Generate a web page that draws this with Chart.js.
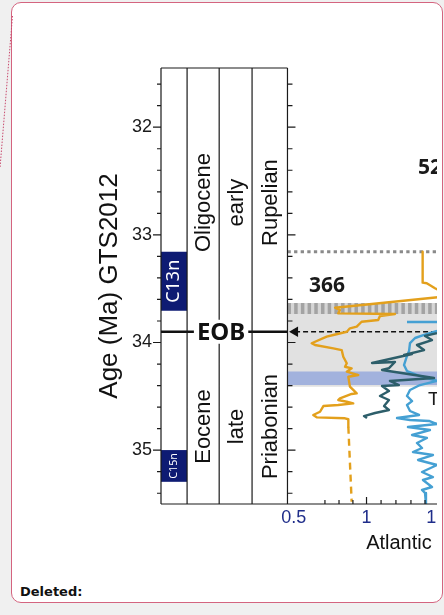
<!DOCTYPE html>
<html>
<head>
<meta charset="utf-8">
<script src="https://cdn.jsdelivr.net/npm/chart.js@4.4.1/dist/chart.umd.min.js"></script>
<style>
  html, body { margin: 0; padding: 0; }
  body { width: 444px; height: 615px; overflow: hidden; background: #f0f0f0; position: relative; }
  #box { position: absolute; left: 11px; top: 2px; width: 432px; height: 601px; box-sizing: border-box;
         border: 1.5px solid #d4647f; border-radius: 10px; background: #fff; }
  #link { position: absolute; left: 0; top: 0; }
  #deleted { position: absolute; left: 20px; top: 584px; font: bold 13px 'DejaVu Sans', sans-serif; color: #111; }
  #clip { position: absolute; left: 0; top: 0; width: 437px; height: 615px; overflow: hidden; }
  #wrap { position: absolute; left: 0; top: 0; width: 520px; height: 615px; }
</style>
</head>
<body>
<div id="box"></div>
<svg id="link" width="20" height="200"><line x1="12.5" y1="16" x2="0" y2="168" stroke="#c94a6e" stroke-width="1" stroke-dasharray="1.5,1.5"/></svg>
<div id="deleted">Deleted:</div>
<div id="clip"><div id="wrap"><canvas id="chart"></canvas></div></div>
<script>
// Age column and proxy panel, EOB interval

const EPOCHS = ['Oligocene', 'Eocene'];
const SUBEPOCHS = ['early', 'late'];
const STAGES = ['Rupelian', 'Priabonian'];
const EOB_AGE = 33.9;

const CHRONS = ['C13n', 'C15n'];
const CHRON_TOP = [33.157, 34.999];
const CHRON_BASE = [33.705, 35.294];

const X_TICK_VALUES = [0.54, 1, 1.41];
const X_TICK_LABELS = ['0.5', '1', '1'];
const X_MAJOR = [0.5, 1];
const X_MINOR = [0.737, 0.826, 0.914, 1.092, 1.186, 1.281, 1.37];

const DOTTED_AGE = 33.157;
const HATCH_BAND = [33.633, 33.735];
const GRAY_BAND = [33.633, 34.41];
const BLUE_BAND = [34.27, 34.395];

// [value, age]
const ORANGE = [
    [1.355, 33.156], [1.355, 33.444], [1.381, 33.45], [1.433, 33.496], [1.528, 33.568],
    [0.801, 33.677], [0.832, 33.698], [0.821, 33.729], [1.18, 33.735], [1.085, 33.754],
    [1.074, 33.791], [0.969, 33.807], [0.938, 33.853], [0.895, 33.868], [0.875, 33.9],
    [0.79, 33.93], [0.748, 33.946], [0.653, 34.007], [0.674, 34.023], [0.79, 34.054],
    [0.843, 34.07], [0.853, 34.132], [0.875, 34.193], [0.864, 34.225], [0.906, 34.24],
    [0.875, 34.271], [0.948, 34.302], [0.885, 34.318], [0.895, 34.41], [0.938, 34.472],
    [0.906, 34.478], [0.832, 34.518], [0.821, 34.534], [0.875, 34.55], [0.916, 34.565],
    [0.821, 34.581], [0.727, 34.59], [0.706, 34.643], [0.663, 34.673], [0.685, 34.695],
    [0.864, 34.704], [0.885, 34.713], [0.885, 34.782]
];
const ORANGE_DASHED = [[0.885, 34.782], [0.906, 35.479]];

const TEAL = [
    [1.446, 33.912], [1.37, 33.939], [1.414, 33.977], [1.319, 34.023], [1.364, 34.07],
    [1.237, 34.116], [1.288, 34.107], [1.035, 34.19], [1.18, 34.181], [1.142, 34.237],
    [1.098, 34.255], [1.427, 34.33], [1.148, 34.357], [1.205, 34.395], [1.098, 34.404],
    [1.142, 34.45], [1.085, 34.497], [1.142, 34.534], [1.111, 34.59], [1.142, 34.627],
    [1.054, 34.655], [0.984, 34.683], [1.003, 34.701]
];

const BLUE = [
    [1.256, 33.81], [1.503, 33.81], [1.503, 33.865], [1.446, 33.893], [1.364, 33.93],
    [1.307, 33.958], [1.275, 34.005], [1.269, 34.079], [1.256, 34.125], [1.237, 34.209],
    [1.256, 34.265], [1.338, 34.311], [1.427, 34.348], [1.446, 34.357], [1.338, 34.395],
    [1.275, 34.441], [1.256, 34.497], [1.288, 34.544], [1.256, 34.58], [1.275, 34.636],
    [1.332, 34.673], [1.193, 34.701], [1.275, 34.72], [1.395, 34.729], [1.446, 34.757],
    [1.262, 34.785], [1.401, 34.813], [1.288, 34.859], [1.382, 34.887], [1.319, 34.933],
    [1.351, 34.98], [1.294, 35.017], [1.42, 35.045], [1.326, 35.091], [1.446, 35.138],
    [1.351, 35.203], [1.42, 35.249], [1.357, 35.277], [1.414, 35.342], [1.351, 35.37],
    [1.37, 35.398], [1.376, 35.5]
];

// layout
const AGE_MIN = 31.45, AGE_MAX = 35.5;
const X_MIN = -0.3, X_MAX = 1.8;
const COLUMN_EDGES = [-0.3, -0.135, 0.068, 0.276, 0.5];
const PANEL_LEFT = 0.5;
const ARROW_AT = 0.548;
const LABEL_AGE_UPPER = 32.7, LABEL_AGE_LOWER = 34.78;
const PANEL_LABELS = [
    { text: '52', x: 1.326, age: 32.379, font: 'bold 21px "Open Sans"', align: 'left' },
    { text: '366', x: 0.75, age: 33.475, font: 'bold 21px "Open Sans"', align: 'center' },
    { text: 'T', x: 1.389, age: 34.534, font: '19px "Liberation Sans"', align: 'left' }
];

const COLORS = {
    orange: '#e3a01c',
    teal: '#2d5e6a',
    blue: '#45a0d3',
    chron: '#0e1b73',
    gray: '#e1e1e1',
    hatchBg: '#d6d6d6',
    hatch: '#a3a3a3',
    band: '#a2b2dd',
    dotted: '#8a8a8a',
    tick: '#1f2d8a',
    ink: '#111'
};

const pts = arr => arr.map(([x, y]) => ({ x, y }));
const isWhole = v => Math.abs(v - Math.round(v)) < 1e-6;

function band(x0, x1, range, color, order) {
    return {
        data: [{ x: x0, y: range[0] }, { x: x1, y: range[0] }],
        fill: { value: range[1] },
        backgroundColor: color,
        borderWidth: 0,
        pointRadius: 0,
        order
    };
}

function curve(arr, color, order, dash) {
    return {
        data: pts(arr),
        borderColor: color,
        borderWidth: 2.4,
        borderDash: dash || [],
        borderJoinStyle: 'round',
        pointRadius: 0,
        fill: false,
        order
    };
}

const datasets = [
    curve(ORANGE, COLORS.orange, 1),
    curve(ORANGE_DASHED, COLORS.orange, 1, [7, 5]),
    curve(TEAL, COLORS.teal, 2),
    curve(BLUE, COLORS.blue, 3),
    {
        data: [{ x: COLUMN_EDGES[0], y: EOB_AGE }, { x: PANEL_LEFT, y: EOB_AGE }],
        borderColor: COLORS.ink, borderWidth: 2.5, pointRadius: 0, order: 5
    },
    {
        data: [{ x: ARROW_AT, y: EOB_AGE }, { x: X_MAX, y: EOB_AGE }],
        borderColor: COLORS.ink, borderWidth: 1.3, borderDash: [5, 3],
        pointRadius: c => c.dataIndex === 0 ? 6 : 0,
        pointStyle: 'triangle', pointRotation: -90,
        pointBackgroundColor: COLORS.ink, pointBorderWidth: 0,
        order: 5
    },
    {
        data: [{ x: PANEL_LEFT, y: DOTTED_AGE }, { x: X_MAX, y: DOTTED_AGE }],
        borderColor: COLORS.dotted, borderWidth: 3, borderDash: [3.3, 3.3], borderCapStyle: 'butt',
        pointRadius: 0, order: 6
    },
    {
        data: [{ x: PANEL_LEFT, y: (HATCH_BAND[0] + HATCH_BAND[1]) / 2 }, { x: X_MAX, y: (HATCH_BAND[0] + HATCH_BAND[1]) / 2 }],
        borderColor: COLORS.hatch, borderWidth: 11, borderDash: [3.5, 3.2], borderCapStyle: 'butt',
        pointRadius: 0, order: 7
    },
    band(PANEL_LEFT, X_MAX, HATCH_BAND, COLORS.hatchBg, 8),
    band(PANEL_LEFT, X_MAX, BLUE_BAND, COLORS.band, 9),
    band(PANEL_LEFT, X_MAX, GRAY_BAND, COLORS.gray, 10)
];

CHRONS.forEach((c, i) => {
    datasets.push(band(COLUMN_EDGES[0], COLUMN_EDGES[1], [CHRON_TOP[i], CHRON_BASE[i]], COLORS.chron, 6));
});

function vtext(ctx, text, cx, cy, font, color) {
    ctx.save();
    ctx.translate(cx, cy);
    ctx.rotate(-Math.PI / 2);
    ctx.font = font;
    ctx.fillStyle = color;
    ctx.textAlign = 'center';
    ctx.textBaseline = 'middle';
    ctx.fillText(text, 0, 0);
    ctx.restore();
}

const frame = {
    id: 'frame',
    afterDatasetsDraw(chart) {
        const { ctx, chartArea: a, scales: { x, y } } = chart;
        const cols = COLUMN_EDGES.map(v => x.getPixelForValue(v));
        const yEob = y.getPixelForValue(EOB_AGE);
        ctx.save();

        ctx.strokeStyle = '#1a1a1a';
        ctx.lineWidth = 1.2;
        ctx.beginPath();
        cols.forEach(px => { ctx.moveTo(px, a.top); ctx.lineTo(px, a.bottom); });
        ctx.moveTo(cols[0], a.top); ctx.lineTo(cols[4], a.top);
        ctx.moveTo(cols[0], a.bottom); ctx.lineTo(a.right, a.bottom);
        y.ticks.forEach(t => {
            const py = y.getPixelForValue(t.value);
            const major = isWhole(t.value);
            ctx.moveTo(cols[0], py); ctx.lineTo(cols[0] - (major ? 8 : 4), py);
            ctx.moveTo(cols[4], py); ctx.lineTo(cols[4] + (major ? 8 : 5), py);
        });
        X_MAJOR.forEach(v => { const px = x.getPixelForValue(v); ctx.moveTo(px, a.bottom); ctx.lineTo(px, a.bottom - 7); });
        X_MINOR.forEach(v => { const px = x.getPixelForValue(v); ctx.moveTo(px, a.bottom); ctx.lineTo(px, a.bottom - 4); });
        ctx.stroke();

        // chron labels
        CHRONS.forEach((c, i) => {
            const top = y.getPixelForValue(CHRON_TOP[i]);
            const base = y.getPixelForValue(CHRON_BASE[i]);
            const size = Math.min(18, (base - top - 6) / 2.4);
            vtext(ctx, c, (cols[0] + cols[1]) / 2, (top + base) / 2, size + 'px "Noto Sans"', '#fff');
        });

        // units
        const yUp = y.getPixelForValue(LABEL_AGE_UPPER);
        const yLo = y.getPixelForValue(LABEL_AGE_LOWER);
        const f = '22px "Liberation Sans"';
        [EPOCHS, SUBEPOCHS, STAGES].forEach((names, k) => {
            const cx = (cols[k + 1] + cols[k + 2]) / 2 + 1;
            vtext(ctx, names[0], cx, yUp, f, COLORS.ink);
            vtext(ctx, names[1], cx, yLo, f, COLORS.ink);
        });

        // EOB label
        ctx.font = 'bold 24px "Noto Sans"';
        const w = ctx.measureText('EOB').width;
        const cx = (cols[1] + cols[3]) / 2 + 1.5;
        ctx.fillStyle = '#fff';
        ctx.fillRect(cx - w / 2 - 3, yEob - 12, w + 6, 24);
        ctx.fillStyle = COLORS.ink;
        ctx.textAlign = 'center';
        ctx.textBaseline = 'middle';
        ctx.fillText('EOB', cx, yEob + 1);

        // panel labels
        PANEL_LABELS.forEach(l => {
            ctx.font = l.font;
            ctx.textAlign = l.align;
            ctx.fillStyle = '#1a1a1a';
            ctx.fillText(l.text, x.getPixelForValue(l.x), y.getPixelForValue(l.age));
        });

        ctx.font = '20px "Liberation Sans"';
        ctx.textAlign = 'center';
        ctx.fillStyle = COLORS.ink;
        ctx.fillText('Atlantic', x.getPixelForValue(1.205), a.bottom + 39);
        ctx.restore();
    }
};

Chart.defaults.font.family = '"Liberation Sans", Arial, sans-serif';

new Chart(document.getElementById('chart'), {
    type: 'line',
    data: { datasets },
    options: {
        responsive: true,
        maintainAspectRatio: false,
        animation: false,
        layout: { padding: { top: 68, right: 27, left: 0, bottom: 0 } },
        plugins: { legend: { display: false }, tooltip: { enabled: false } },
        scales: {
            x: {
                type: 'linear',
                min: X_MIN,
                max: X_MAX,
                afterBuildTicks: s => { s.ticks = X_TICK_VALUES.map(v => ({ value: v })); },
                afterFit: s => { s.height = 111; },
                grid: { display: false, drawTicks: false },
                border: { display: false },
                ticks: {
                    autoSkip: false,
                    maxRotation: 0,
                    padding: 3,
                    color: COLORS.tick,
                    font: { size: 18 },
                    callback: (v, i) => X_TICK_LABELS[i]
                }
            },
            y: {
                type: 'linear',
                reverse: true,
                min: AGE_MIN,
                max: AGE_MAX,
                afterFit: s => { s.width = 161; },
                grid: { display: false, drawTicks: false },
                border: { display: false },
                ticks: {
                    stepSize: 0.2,
                    includeBounds: false,
                    autoSkip: false,
                    padding: 9,
                    color: '#1a1a1a',
                    font: { size: 18 },
                    callback: v => isWhole(v) ? String(Math.round(v)) : ''
                },
                title: {
                    display: true,
                    text: 'Age (Ma) GTS2012',
                    color: COLORS.ink,
                    font: { size: 26 },
                    padding: { top: 94, bottom: 0 }
                }
            }
        }
    },
    plugins: [frame]
});
</script>
</body>
</html>
